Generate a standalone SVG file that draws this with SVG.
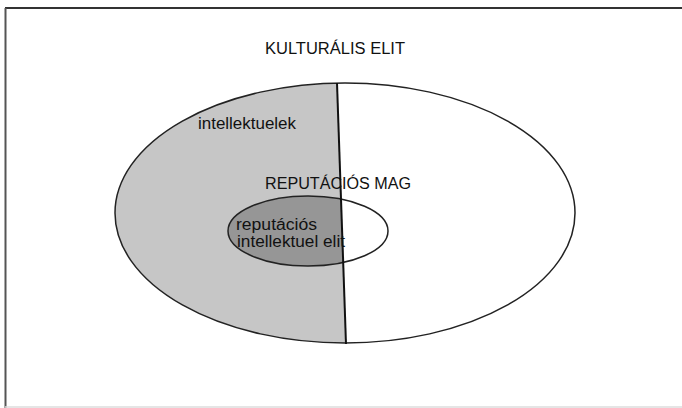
<svg xmlns="http://www.w3.org/2000/svg" width="682" height="408" viewBox="0 0 682 408">
<style>
.t{font-family:"Liberation Sans",Arial,sans-serif;font-size:16px;fill:#111}
.o{fill:none;stroke:#222;stroke-width:1.5}
</style>
<defs>
<clipPath id="left"><polygon points="0,0 334.1,0 348.2,408 0,408"/></clipPath>
</defs>
<rect width="682" height="408" fill="#fff"/>
<g id="frame">
<line x1="5" y1="8" x2="682" y2="8" stroke="#333" stroke-width="2"/>
<line x1="5.5" y1="8" x2="5.5" y2="408" stroke="#555" stroke-width="2"/>
<line x1="5" y1="407" x2="682" y2="407" stroke="#ddd" stroke-width="1.5"/>
</g>
<g id="kulturalis-elit">
<ellipse cx="345" cy="213" rx="230" ry="130" fill="#fff"/>
<ellipse cx="345" cy="213" rx="230" ry="130" fill="#c6c6c6" clip-path="url(#left)"/>
<ellipse class="o" cx="345" cy="213" rx="230" ry="130"/>
<text class="t" x="265" y="54" textLength="140" lengthAdjust="spacingAndGlyphs">KULTURÁLIS ELIT</text>
</g>
<g id="intellektuelek">
<text class="t" x="198" y="129" textLength="98" lengthAdjust="spacingAndGlyphs">intellektuelek</text>
</g>
<g id="reputacios-mag">
<ellipse cx="308" cy="231" rx="80" ry="35" fill="#fff"/>
<ellipse cx="308" cy="231" rx="80" ry="35" fill="#969696" clip-path="url(#left)"/>
<ellipse class="o" cx="308" cy="231" rx="80" ry="35"/>
<text class="t" x="265" y="189" textLength="146" lengthAdjust="spacingAndGlyphs">REPUTÁCIÓS MAG</text>
</g>
<g id="reputacios-intellektuel-elit">
<text class="t" x="236" y="230" textLength="81" lengthAdjust="spacingAndGlyphs">reputációs</text>
<text class="t" x="237" y="247" textLength="108" lengthAdjust="spacingAndGlyphs">intellektuel elit</text>
</g>
<g id="connectors">
<line x1="337" y1="83" x2="346" y2="344" stroke="#111" stroke-width="2"/>
</g>
</svg>
